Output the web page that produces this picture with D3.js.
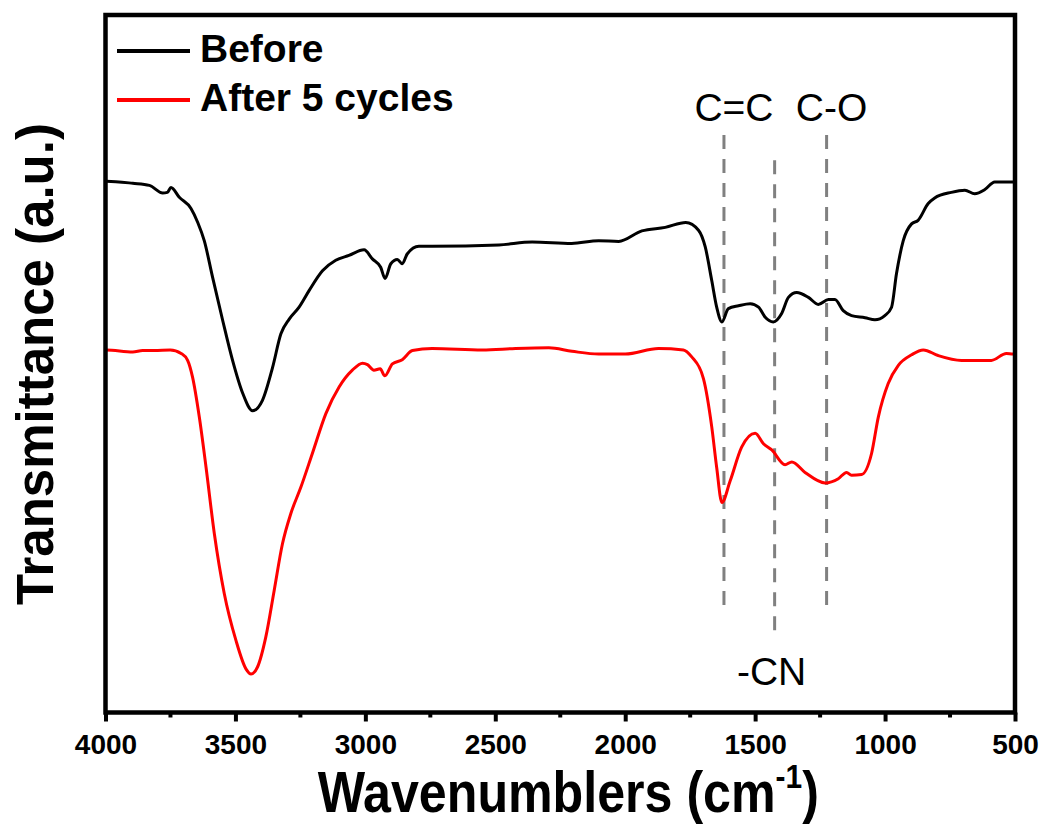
<!DOCTYPE html>
<html>
<head>
<meta charset="utf-8">
<script src="https://cdn.jsdelivr.net/npm/d3@7"></script>
<style>
  body { margin: 0; background: #fff; }
  svg { display: block; font-family: "Liberation Sans", Arial, sans-serif; }
</style>
</head>
<body>
<script>
// FTIR spectra, [wavenumber (cm-1), transmittance (a.u.)]
const beforeData = [
  [4000, 75.9], [3997, 75.9], [3895, 75.6], [3831, 75.3], [3780, 74.2], [3762, 74.3],
  [3748, 75.0], [3716, 73.6], [3671, 72.0], [3645, 70.0], [3620, 67.4], [3588, 62.2],
  [3549, 56.0], [3511, 50.3], [3472, 45.6], [3434, 43.1], [3396, 44.6], [3357, 49.3],
  [3325, 54.1], [3293, 56.2], [3255, 57.9], [3216, 60.3], [3165, 63.1], [3114, 64.6],
  [3063, 65.3], [3005, 66.1], [2973, 64.8], [2941, 63.6], [2924, 62.0], [2902, 64.1],
  [2877, 64.7], [2858, 64.1], [2839, 65.5], [2794, 66.6], [2743, 66.6], [2486, 66.8],
  [2358, 67.2], [2206, 67.0], [2102, 67.4], [2025, 67.3], [1936, 68.8], [1846, 69.3],
  [1767, 70.0], [1718, 68.9], [1692, 66.5], [1667, 61.7], [1648, 57.9], [1628, 55.8],
  [1603, 57.7], [1564, 58.1], [1519, 58.4], [1487, 57.9], [1462, 56.5], [1430, 55.8],
  [1398, 57.0], [1372, 59.3], [1340, 60.0], [1295, 59.3], [1257, 58.3], [1218, 59.0],
  [1193, 59.0], [1161, 57.4], [1129, 56.7], [1077, 56.4], [1039, 56.1], [1001, 56.7],
  [975, 57.9], [956, 62.7], [930, 67.4], [898, 69.8], [873, 70.3], [834, 72.7],
  [809, 73.5], [745, 74.3], [693, 74.6], [655, 74.1], [616, 74.7], [578, 75.8],
  [508, 75.8], [500, 75.8]
]

const afterData = [
  [4000, 51.8], [3997, 51.8], [3895, 51.5], [3857, 51.7], [3812, 51.7], [3751, 51.8],
  [3709, 51.3], [3684, 50.3], [3665, 47.9], [3639, 42.2], [3613, 35.0], [3581, 25.5],
  [3543, 17.0], [3498, 10.3], [3459, 6.2], [3440, 5.5], [3415, 6.5], [3383, 10.8],
  [3351, 17.4], [3319, 24.1], [3287, 28.4], [3248, 32.2], [3204, 37.0], [3152, 42.7],
  [3101, 46.5], [3050, 48.9], [3011, 49.9], [2992, 49.7], [2967, 48.9], [2943, 49.1],
  [2925, 48.1], [2896, 49.8], [2858, 50.4], [2819, 51.7], [2743, 52.0], [2550, 51.8],
  [2422, 52.0], [2294, 52.1], [2205, 51.6], [2102, 51.2], [2000, 51.2], [1872, 52.0],
  [1776, 51.8], [1744, 50.8], [1699, 47.7], [1667, 40.8], [1648, 35.0], [1628, 30.0],
  [1596, 33.1], [1552, 37.9], [1500, 39.9], [1468, 38.4], [1436, 37.5], [1385, 35.4],
  [1359, 35.8], [1308, 34.3], [1231, 32.8], [1180, 33.4], [1148, 34.3], [1129, 33.9],
  [1090, 34.0], [1052, 37.0], [1026, 42.2], [988, 47.0], [949, 49.6], [898, 51.1],
  [853, 51.8], [796, 51.0], [706, 50.3], [591, 50.3], [533, 51.3], [508, 51.2],
  [500, 51.2]
]

const seriesNames = ["Before", "After 5 cycles"]
const seriesColors = ["#000000", "#ff0000"]

// band markers: wavenumber, dashed line top/bottom (a.u.), label
const bandWn = [1620, 1425, 1225]
const bandLabels = ["C=C", "-CN", "C-O"]
const bandTop = [82.5, 78.9, 82.5]
const bandBottom = [14.2, 10.6, 14.2]

const xTicks = [4000, 3500, 3000, 2500, 2000, 1500, 1000, 500]
const xMinorTicks = [3750, 3250, 2750, 2250, 1750, 1250, 750]

//----------------------------------------------------------------------------------------------
const width = 1043
const height = 834
const margin = { top: 15, right: 28, bottom: 121.5, left: 105.5 }

const svg = d3.select("body").append("svg")
    .attr("width", width)
    .attr("height", height)

const x = d3.scaleLinear()
    .domain([4000, 500])
    .range([margin.left, width - margin.right])

const y = d3.scaleLinear()
    .domain([0, 99.64])
    .range([height - margin.bottom, margin.top])

const line = d3.line()
    .x(d => x(d[0]))
    .y(d => y(d[1]))
    .curve(d3.curveMonotoneX)

// dashed band lines
const bands = svg.append("g")
bandWn.forEach((wn, i) => {
    bands.append("line")
        .attr("x1", x(wn)).attr("x2", x(wn))
        .attr("y1", y(bandTop[i])).attr("y2", y(bandBottom[i]))
        .attr("stroke", "#808080")
        .attr("stroke-width", 3)
        .attr("stroke-dasharray", "14,10")
})

// spectra
svg.append("path")
    .datum(beforeData)
    .attr("d", line)
    .attr("fill", "none")
    .attr("stroke", seriesColors[0])
    .attr("stroke-width", 3)
    .attr("stroke-linejoin", "round")

svg.append("path")
    .datum(afterData)
    .attr("d", line)
    .attr("fill", "none")
    .attr("stroke", seriesColors[1])
    .attr("stroke-width", 3)
    .attr("stroke-linejoin", "round")

// band labels
const labelDx = [10, -3, 5]
bandWn.forEach((wn, i) => {
    const above = bandLabels[i] != "-CN"
    svg.append("text")
        .attr("x", x(wn) + labelDx[i])
        .attr("y", above ? y(bandTop[i]) - 14 : y(bandBottom[i]) + 47)
        .attr("text-anchor", "middle")
        .attr("font-size", 39)
        .attr("fill", "#000")
        .text(bandLabels[i])
})

// frame
svg.append("rect")
    .attr("x", margin.left)
    .attr("y", margin.top)
    .attr("width", width - margin.right - margin.left)
    .attr("height", height - margin.bottom - margin.top)
    .attr("fill", "none")
    .attr("stroke", "#000")
    .attr("stroke-width", 4.5)

// x axis
const xAxis = svg.append("g")
    .attr("transform", `translate(0,${height - margin.bottom})`)
    .call(d3.axisBottom(x).tickValues(xTicks).tickSize(9).tickPadding(13).tickFormat(d3.format("d")))
xAxis.select(".domain").remove()
xAxis.selectAll(".tick line").attr("stroke-width", 4)
xAxis.selectAll(".tick text")
    .attr("font-size", 28)
    .attr("font-weight", "bold")
    .attr("font-family", "'Liberation Sans', Arial, sans-serif")
    .attr("fill", "#000")

svg.append("g")
    .attr("transform", `translate(0,${height - margin.bottom})`)
    .selectAll("line")
    .data(xMinorTicks)
    .join("line")
    .attr("x1", d => x(d)).attr("x2", d => x(d))
    .attr("y1", 0).attr("y2", 5)
    .attr("stroke", "#000")
    .attr("stroke-width", 4)

// axis titles
const xTitle = svg.append("text")
    .attr("transform", `translate(${(margin.left + width - margin.right) / 2 + 8},812) scale(0.88,1)`)
    .attr("text-anchor", "middle")
    .attr("font-size", 57)
    .attr("font-weight", "bold")
xTitle.append("tspan").text("Wavenumblers (cm")
xTitle.append("tspan").attr("font-size", 34).attr("dy", -24).text("-1")
xTitle.append("tspan").attr("dy", 24).text(")")

svg.append("text")
    .attr("transform", `translate(53,${364}) rotate(-90)`)
    .attr("text-anchor", "middle")
    .attr("font-size", 51)
    .attr("font-weight", "bold")
    .text("Transmittance (a.u.)")

// legend
const legend = svg.append("g")
seriesNames.forEach((name, i) => {
    const ly = 51 + i * 49
    legend.append("line")
        .attr("x1", 117).attr("x2", 190)
        .attr("y1", ly).attr("y2", ly)
        .attr("stroke", seriesColors[i])
        .attr("stroke-width", 4)
    legend.append("text")
        .attr("x", 200)
        .attr("y", ly + 11)
        .attr("font-size", 39)
        .attr("font-weight", "bold")
        .text(name)
})
</script>
</body>
</html>
